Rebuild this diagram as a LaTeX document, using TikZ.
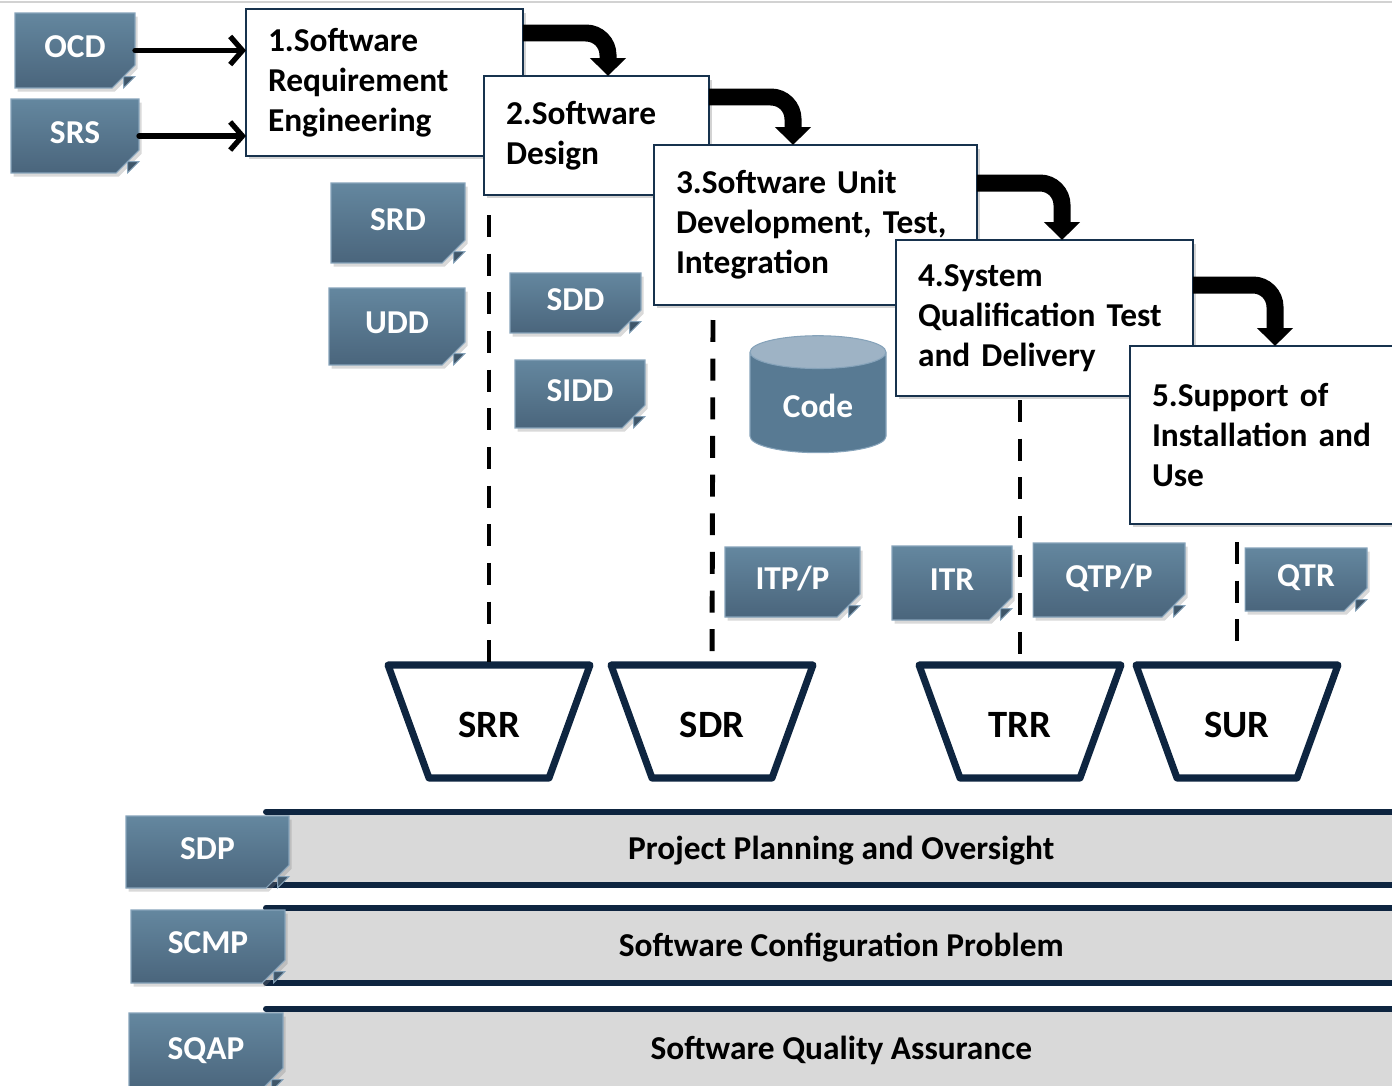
\documentclass[tikz,border=0pt]{standalone}
\usepackage{fontspec}
\setmainfont{Carlito}
\usetikzlibrary{shapes.geometric, shapes.misc, arrows.meta, shadows, calc}

\definecolor{docTop}{HTML}{64879F}
\definecolor{docBot}{HTML}{4A657C}
\definecolor{docEdge}{HTML}{86A3BA}
\definecolor{navy}{HTML}{0E2540}
\definecolor{boxEdge}{HTML}{17324D}
\definecolor{barGrey}{HTML}{D9D9D9}
\definecolor{cylTop}{HTML}{9EB3C5}
\definecolor{cylBody}{HTML}{587A93}

\begin{document}
\begin{tikzpicture}[
			x=0.02cm, y=-0.02cm,
			>=Latex,
			doc/.style={chamfered rectangle, chamfered rectangle corners=south east,
				chamfered rectangle xsep=6.5pt, chamfered rectangle ysep=6.5pt,
				top color=docTop, bottom color=docBot, draw=docEdge, line width=0.6pt,
				text=white, font=\bfseries\fontsize{19}{23}\selectfont,
				text height=12.5pt, text depth=4.5pt, inner sep=0pt, outer sep=0pt,
				drop shadow={shadow xshift=1.5pt, shadow yshift=-2pt, opacity=0.3}},
			fold/.style={fill=docBot!85!black, draw=docEdge, line width=0.5pt},
			stage/.style={rectangle, draw=boxEdge, line width=1.4pt, fill=white, anchor=north west,
				align=left, inner xsep=0.44cm, inner ysep=0pt, outer sep=0pt,
				font=\bfseries\fontsize{19}{22.8}\selectfont,
				drop shadow={shadow xshift=1.5pt, shadow yshift=-2pt, opacity=0.35}},
			flow/.style={line width=0.34cm, rounded corners=0.44cm, -{Triangle[width=0.7cm,length=0.36cm]}},
			feed/.style={line width=3pt, line cap=round, line join=round, -{Straight Barb[length=7pt,width=16pt]}},
			milestone/.style={rectangle, minimum width=4.06cm, minimum height=2.28cm, inner sep=0pt,
				font=\bfseries\fontsize{22}{26}\selectfont},
			rim/.style={draw=navy, line width=4pt, line join=round},
			gate/.style={line width=2.8pt, dash pattern=on 12.5pt off 9.5pt},
			phase/.style={rectangle, fill=barGrey, anchor=west, minimum width=23cm, inner sep=0pt,
				text height=12.5pt, text depth=0pt, font=\bfseries\fontsize{19}{23}\selectfont},
			rail/.style={draw=navy, line width=3.4pt, line cap=round}
			]
			\useasboundingbox (0,0) rectangle (1392,1085);
			\clip (0,0) rectangle (1392,1085);
			\draw[gray!35, line width=1.5pt] (0,2) -- (1392,2); % slide edge
			
			% --- Supporting activities (bars) ---
			\node[phase, minimum height=1.46cm] (plan) at (266,848.5) {Project Planning and Oversight};
			\node[phase, minimum height=1.5cm] (config) at (266,945.5) {Software Configuration Problem};
			\node[phase, minimum height=1.6cm] (quality) at (266,1049) {Software Quality Assurance};
			\foreach \b in {plan,config,quality} {
				\draw[rail] (\b.north west) -- (\b.north east);
				\draw[rail] (\b.south west) -- (\b.south east);
			}
			
			% --- Waterfall stages ---
			\node[stage, text width=4.66cm, minimum height=2.94cm] (b1) at (246,9) {1.Software\\Requirement\\Engineering};
			\node[stage, text width=3.62cm, minimum height=2.38cm] (b2) at (484,76) {2.Software\\Design};
			\node[stage, text width=5.58cm, minimum height=3.2cm] (b3) at (654,145) {3.Software Unit\\Development, Test,\\Integration};
			\node[stage, text width=5.06cm, minimum height=3.12cm] (b4) at (896,240) {4.System\\Qualification Test\\and Delivery};
			\node[stage, text width=4.72cm, minimum height=3.56cm] (b5) at (1130,346) {5.Support of\\Installation and\\Use};
			
			% --- Bent arrows between stages ---
			\draw[flow] ($(b1.north east)+(0,24)$) -| ($(b2.north west)+(124,0)$);
			\draw[flow] ($(b2.north east)+(0,21)$) -| ($(b3.north west)+(139,0)$);
			\draw[flow] ($(b3.north east)+(0,38)$) -| ($(b4.north west)+(166,0)$);
			\draw[flow] ($(b4.north east)+(0,45)$) -| ($(b5.north west)+(145,0)$);
			
			% --- Documents ---
			\node[doc, minimum width=2.4cm, minimum height=1.5cm] (ocd) at (75,50.5) {OCD};
			\node[doc, minimum width=2.56cm, minimum height=1.48cm] (srs) at (75,136) {SRS};
			\node[doc, minimum width=2.68cm, minimum height=1.6cm] (srd) at (398,223) {SRD};
			\node[doc, minimum width=2.72cm, minimum height=1.54cm] (udd) at (397,326.5) {UDD};
			\node[doc, minimum width=2.62cm, minimum height=1.2cm] (sdd) at (575.5,303) {SDD};
			\node[doc, minimum width=2.6cm, minimum height=1.36cm] (sidd) at (580,394) {SIDD};
			\node[doc, minimum width=2.7cm, minimum height=1.4cm] (itp) at (792.5,582) {ITP/P};
			\node[doc, minimum width=2.4cm, minimum height=1.48cm] (itr) at (952,583) {ITR};
			\node[doc, minimum width=3.04cm, minimum height=1.48cm] (qtp) at (1109,580) {QTP/P};
			\node[doc, minimum width=2.44cm, minimum height=1.26cm] (qtr) at (1306,579.5) {QTR};
			\node[doc, minimum width=3.26cm, minimum height=1.44cm] (sdp) at (207.5,852) {SDP};
			\node[doc, minimum width=3.08cm, minimum height=1.46cm] (scmp) at (208,946.5) {SCMP};
			\node[doc, minimum width=3.08cm, minimum height=1.56cm] (sqap) at (206,1052) {SQAP};
			\foreach \d in {ocd,srs,srd,udd,sdd,sidd,itp,itr,qtp,qtr,sdp,scmp,sqap}
				\filldraw[fold] ($(\d.south -| \d.east)+(-6.5pt,0pt)$) -- ($(\d.south -| \d.east)+(-6.5pt,6.5pt)$) -- ($(\d.south -| \d.east)+(0pt,6.5pt)$) -- cycle;
			
			\node[cylinder, shape border rotate=90, aspect=0.4, draw=docEdge, line width=0.6pt,
				cylinder uses custom fill, cylinder body fill=cylBody, cylinder end fill=cylTop,
				minimum width=2.72cm, minimum height=2.34cm, text=white,
				font=\bfseries\fontsize{19}{23}\selectfont] (code) at (818,406) {Code};
			
			% --- Inputs ---
			\draw[feed] (ocd.east) -- (ocd.east -| b1.west);
			\draw[feed] (srs.east) -- (srs.east -| b1.west);
			
			% --- Reviews ---
			\node[milestone] (srr) at (489,725) {SRR};
			\node[milestone] (sdr) at (712,725) {SDR};
			\node[milestone] (trr) at (1020,725) {TRR};
			\node[milestone] (sur) at (1237,725) {SUR};
			\foreach \m in {srr,sdr,trr,sur}
				\draw[rim] ($(\m.center)+(-101,-60)$) -- ($(\m.center)+(101,-60)$) -- ($(\m.center)+(60,53)$) -- ($(\m.center)+(-60,53)$) -- cycle;
			
			\coordinate (srrgate) at (489,215);
			\coordinate (sdrgate) at (713,320);
			\coordinate (trrgate) at (1020,400);
			\coordinate (surgate) at (1237,542);
			\draw[gate] (srrgate) -- ($(srr.center)+(0,-60)$);
			\draw[gate] (sdrgate) -- ($(sdr.center)+(0,-60)$);
			\draw[gate] (trrgate) -- ($(trr.center)+(0,-60)$);
			\draw[gate] (surgate) -- ($(sur.center)+(0,-81)$);
			
		\end{tikzpicture}
\end{document}
